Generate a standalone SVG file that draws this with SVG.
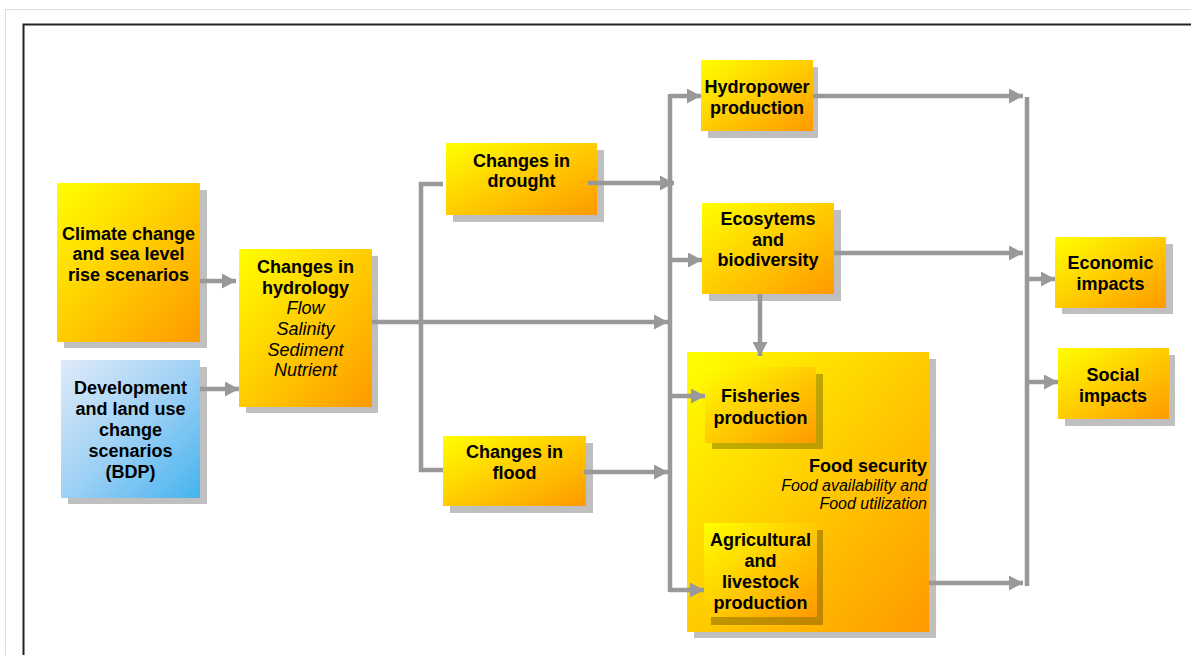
<svg xmlns="http://www.w3.org/2000/svg" width="1191" height="655" viewBox="0 0 1191 655">
<defs>
<linearGradient id="gy" x1="0" y1="0" x2="1" y2="1">
<stop offset="0" stop-color="#ffff00"/>
<stop offset="0.5" stop-color="#ffcc00"/>
<stop offset="1" stop-color="#ff9900"/>
</linearGradient>
<linearGradient id="gb" x1="0" y1="0" x2="1" y2="1">
<stop offset="0" stop-color="#dfebf9"/>
<stop offset="0.5" stop-color="#9fd1f5"/>
<stop offset="1" stop-color="#45b3ee"/>
</linearGradient>
<marker id="ah" viewBox="0 0 14 15" refX="14" refY="7.5" markerWidth="14" markerHeight="15" markerUnits="userSpaceOnUse" orient="auto">
<path d="M0,0 L14,7.5 L0,15 z" fill="#999999"/>
</marker>
<style>
.sh{fill:#000000;fill-opacity:0.25}
.y{fill:url(#gy)}
.b{fill:url(#gb)}
.t{font-family:"Liberation Sans",Arial,sans-serif;font-size:18px;font-weight:bold;fill:#000;text-anchor:middle}
.i{font-family:"Liberation Sans",Arial,sans-serif;font-size:18px;font-style:italic;fill:#000;text-anchor:middle}
.c{fill:none;stroke:#999999;stroke-width:4.5}
.a{marker-end:url(#ah)}
</style>
</defs>
<rect x="0" y="0" width="1191" height="655" fill="#ffffff"/>
<path d="M5.5,655 V9.5 H1191" fill="none" stroke="#dddddd" stroke-width="1"/>
<path d="M23.5,655 V24.5 H1191" fill="none" stroke="#222222" stroke-width="2"/>

<g id="climate">
<rect class="sh" x="64" y="190" width="143" height="158"/>
<rect class="y" x="57" y="183" width="143" height="159"/>
<text class="t" x="128.5" y="239.5">Climate change</text>
<text class="t" x="128.5" y="260">and sea level</text>
<text class="t" x="128.5" y="280.5">rise scenarios</text>
</g>

<g id="development">
<rect class="sh" x="68" y="367" width="139" height="137"/>
<rect class="b" x="61" y="360" width="139" height="138"/>
<text class="t" x="130.5" y="393.5">Development</text>
<text class="t" x="130.5" y="415">and land use</text>
<text class="t" x="130.5" y="435.5">change</text>
<text class="t" x="130.5" y="457">scenarios</text>
<text class="t" x="130.5" y="478">(BDP)</text>
</g>

<g id="hydrology">
<rect class="sh" x="246" y="256" width="132" height="157"/>
<rect class="y" x="239" y="249" width="133" height="158"/>
<text class="t" x="305.5" y="273">Changes in</text>
<text class="t" x="305.5" y="293.5">hydrology</text>
<text class="i" x="305.5" y="314">Flow</text>
<text class="i" x="305.5" y="335">Salinity</text>
<text class="i" x="305.5" y="355.5">Sediment</text>
<text class="i" x="305.5" y="376">Nutrient</text>
</g>

<g id="drought">
<rect class="sh" x="453" y="150" width="151" height="72"/>
<rect class="y" x="446" y="143" width="151" height="72"/>
<text class="t" x="521.5" y="166.5">Changes in</text>
<text class="t" x="521.5" y="187">drought</text>
</g>

<g id="flood">
<rect class="sh" x="450" y="443" width="143" height="70"/>
<rect class="y" x="443" y="436" width="143" height="70"/>
<text class="t" x="514.5" y="458">Changes in</text>
<text class="t" x="514.5" y="478.5">flood</text>
</g>

<g id="hydropower">
<rect class="sh" x="708" y="67" width="110" height="71"/>
<rect class="y" x="701" y="60" width="112" height="71"/>
<text class="t" x="757" y="93">Hydropower</text>
<text class="t" x="757" y="113.5">production</text>
</g>

<g id="ecosystems">
<rect class="sh" x="709" y="210" width="132" height="91"/>
<rect class="y" x="702" y="203" width="132" height="91"/>
<text class="t" x="768" y="224.5">Ecosytems</text>
<text class="t" x="768" y="245.5">and</text>
<text class="t" x="768" y="266">biodiversity</text>
</g>

<g id="foodsecurity">
<rect class="sh" x="694" y="359" width="242" height="279"/>
<rect class="y" x="687" y="352" width="242" height="280"/>
<text class="t" x="927" y="472" style="text-anchor:end">Food security</text>
<text class="i" x="927" y="490.5" style="text-anchor:end;font-size:16px">Food availability and</text>
<text class="i" x="927" y="509" style="text-anchor:end;font-size:16px">Food utilization</text>
</g>

<g id="fisheries">
<rect class="sh" x="712" y="374" width="111" height="75"/>
<rect class="y" x="705" y="367" width="111" height="76"/>
<text class="t" x="760.5" y="402">Fisheries</text>
<text class="t" x="760.5" y="423.5">production</text>
</g>

<g id="agricultural">
<rect class="sh" x="711" y="530" width="112" height="95"/>
<rect class="y" x="704" y="523" width="113" height="94"/>
<text class="t" x="760.5" y="546">Agricultural</text>
<text class="t" x="760.5" y="567">and</text>
<text class="t" x="760.5" y="588">livestock</text>
<text class="t" x="760.5" y="609">production</text>
</g>

<g id="economic">
<rect class="sh" x="1062" y="244" width="111" height="70"/>
<rect class="y" x="1055" y="237" width="111" height="71"/>
<text class="t" x="1110.5" y="268.5">Economic</text>
<text class="t" x="1110.5" y="289.5">impacts</text>
</g>

<g id="social">
<rect class="sh" x="1065" y="355" width="110" height="71"/>
<rect class="y" x="1058" y="348" width="111" height="71"/>
<text class="t" x="1113" y="380.5">Social</text>
<text class="t" x="1113" y="401.5">impacts</text>
</g>

<g id="connectors">
<path class="c a" d="M200,281 H236"/>
<path class="c a" d="M200,389 H239"/>
<path class="c a" d="M372,322 H668"/>
<path class="c" d="M443,184 H421 V470 H443"/>
<path class="c a" d="M588,183 H674"/>
<path class="c a" d="M584,472 H668"/>
<path class="c" d="M670,94 V592"/>
<path class="c a" d="M670,96 H701"/>
<path class="c a" d="M670,260 H702"/>
<path class="c a" d="M670,396 H705"/>
<path class="c a" d="M670,590 H704"/>
<path class="c a" d="M813,96 H1023"/>
<path class="c a" d="M834,253 H1023"/>
<path class="c a" d="M760,294 V356"/>
<path class="c a" d="M929,583 H1023"/>
<path class="c" d="M1027,97 V586"/>
<path class="c a" d="M1027,279 H1055"/>
<path class="c a" d="M1027,382 H1058"/>
</g>
</svg>
